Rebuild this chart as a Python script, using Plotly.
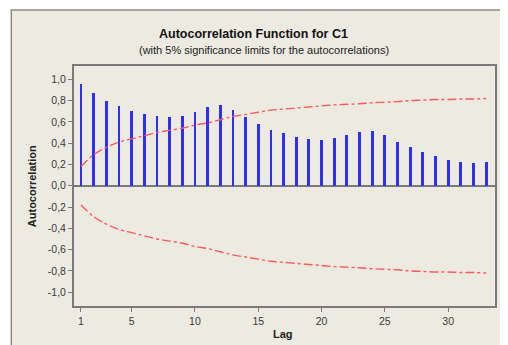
import plotly.graph_objects as go

lags = list(range(1, 34))
acf = [0.956, 0.874, 0.80, 0.746, 0.70, 0.67, 0.652, 0.643, 0.658, 0.695, 0.737, 0.761,
       0.711, 0.643, 0.578, 0.524, 0.493, 0.455, 0.436, 0.432, 0.448, 0.476, 0.507, 0.514,
       0.473, 0.413, 0.364, 0.314, 0.276, 0.244, 0.22, 0.21, 0.22]
upper = [0.18, 0.29, 0.36, 0.41, 0.44, 0.47, 0.50, 0.52, 0.54, 0.57, 0.59, 0.62, 0.65,
         0.67, 0.69, 0.71, 0.72, 0.73, 0.74, 0.75, 0.76, 0.765, 0.77, 0.78, 0.785, 0.79,
         0.80, 0.805, 0.81, 0.81, 0.815, 0.815, 0.82]
lower = [-v for v in upper]
ytick_vals = [1.0, 0.8, 0.6, 0.4, 0.2, 0.0, -0.2, -0.4, -0.6, -0.8, -1.0]
ytick_text = ["1,0", "0,8", "0,6", "0,4", "0,2", "0,0", "-0,2", "-0,4", "-0,6", "-0,8", "-1,0"]
xtick_vals = [1, 5, 10, 15, 20, 25, 30]

# page body has an 8px margin, so the figure sits at (8, 8)
OFF = 8
W, H = 508 - OFF, 345 - OFF
ML, MT = 74 - OFF, 66 - OFF
MR = W - (497 - OFF)
MB = H - (306 - OFF)
PW, PH = W - ML - MR, H - MT - MB

def px(x):
    return (x - OFF - ML) / PW

def py(y):
    return 1 - (y - OFF - MT) / PH

fig = go.Figure()
fig.add_trace(go.Bar(x=lags, y=acf, width=0.22, marker=dict(color="#2E2EFF", line=dict(width=0)),
                     showlegend=False))
fig.add_trace(go.Scatter(x=lags, y=upper, mode="lines",
                         line=dict(color="#FF5A5A", width=1.4, dash="dashdot", shape="spline"),
                         showlegend=False))
fig.add_trace(go.Scatter(x=lags, y=lower, mode="lines",
                         line=dict(color="#FF5A5A", width=1.4, dash="dashdot", shape="spline"),
                         showlegend=False))

axis_common = dict(showline=True, linecolor="#7A7A7A", linewidth=2, mirror=True,
                   ticks="outside", ticklen=4, tickcolor="#7A7A7A", showgrid=False,
                   tickfont=dict(family="Liberation Sans", size=10.5, color="#3A3A3A"))

fig.update_layout(
    width=W, height=H,
    margin=dict(l=ML, r=MR, t=MT, b=MB),
    paper_bgcolor="white",
    plot_bgcolor="white",
    bargap=0,
    xaxis=dict(range=[0.45, 33.7], tickvals=xtick_vals, zeroline=False, **axis_common),
    yaxis=dict(range=[-1.13, 1.125], tickvals=ytick_vals, ticktext=ytick_text,
               zeroline=True, zerolinecolor="#7A7A7A", zerolinewidth=2, **axis_common),
    shapes=[
        dict(type="rect", xref="paper", yref="paper", layer="below",
             x0=px(11), x1=px(507), y0=py(360), y1=py(10),
             fillcolor="#EDEAE1", line=dict(color="#8A8A8A", width=1.5)),
    ],
    annotations=[
        dict(text="<b>Autocorrelation Function for C1</b>", xref="paper", yref="paper",
             x=px(254), y=py(34), showarrow=False, xanchor="center", yanchor="middle",
             font=dict(family="Liberation Sans", size=12.5, color="#111111")),
        dict(text="(with 5% significance limits for the autocorrelations)", xref="paper", yref="paper",
             x=px(265), y=py(50), showarrow=False, xanchor="center", yanchor="middle",
             font=dict(family="Liberation Sans", size=11, color="#222222")),
        dict(text="<b>Autocorrelation</b>", xref="paper", yref="paper", textangle=-90,
             x=px(32), y=py(186), showarrow=False, xanchor="center", yanchor="middle",
             font=dict(family="Liberation Sans", size=11, color="#222222")),
        dict(text="<b>Lag</b>", xref="paper", yref="paper",
             x=px(284), y=py(334), showarrow=False, xanchor="center", yanchor="middle",
             font=dict(family="Liberation Sans", size=11, color="#222222")),
    ],
)

fig.write_html("out.html")
